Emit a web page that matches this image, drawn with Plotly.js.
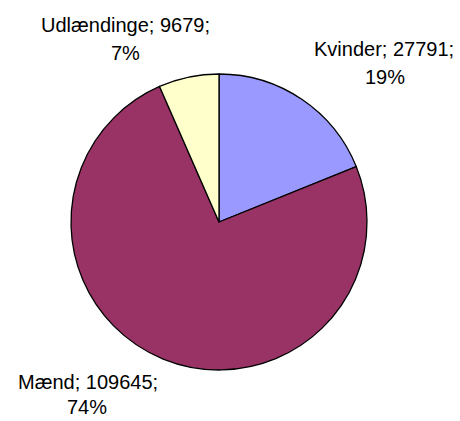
<!DOCTYPE html>
<html>
<head>
<meta charset="utf-8">
<script src="https://cdn.plot.ly/plotly-3.0.1.min.js"></script>
<style>html,body{margin:0;padding:0;background:#fff;}#chart{width:460px;height:421px;}</style>
</head>
<body>
<div id="chart"></div>
<script>
const categories = ["Kvinder", "Mænd", "Udlændinge"];
const values = [27791, 109645, 9679];
const percentLabels = ["19%", "74%", "7%"];
const colors = ["#9999FF", "#993366", "#FFFFCC"];

// label placement (paper px) per category: [line1 x, line1 y, line2 x, line2 y]
const labelPos = [
  [384, 49, 385, 77],
  [88, 382, 87, 407],
  [125, 25, 125, 53]
];

const W = 460, H = 421;
const cx = 219, cy = 222, r = 148;
const fontSpec = {family: "Liberation Sans, Arial, sans-serif", size: 20, color: "#000"};

const annotations = [];
categories.forEach((c, i) => {
  const p = labelPos[i];
  annotations.push({
    text: c + "; " + values[i] + ";",
    x: p[0] / W, y: 1 - p[1] / H, xref: "paper", yref: "paper",
    xanchor: "center", yanchor: "middle", showarrow: false,
    font: fontSpec
  });
  annotations.push({
    text: percentLabels[i],
    x: p[2] / W, y: 1 - p[3] / H, xref: "paper", yref: "paper",
    xanchor: "center", yanchor: "middle", showarrow: false,
    font: fontSpec
  });
});

const trace = {
  type: "pie",
  labels: categories,
  values: values,
  sort: false,
  direction: "clockwise",
  rotation: 0,
  marker: {colors: colors, line: {color: "#000", width: 1.3}},
  textinfo: "none",
  hoverinfo: "label+value+percent",
  domain: {x: [(cx - r) / W, (cx + r) / W], y: [1 - (cy + r) / H, 1 - (cy - r) / H]}
};

Plotly.newPlot("chart", [trace], {
  width: W, height: H,
  margin: {l: 0, r: 0, t: 0, b: 0},
  showlegend: false,
  paper_bgcolor: "#fff",
  annotations: annotations
}, {displayModeBar: false, staticPlot: true});
</script>
</body>
</html>
